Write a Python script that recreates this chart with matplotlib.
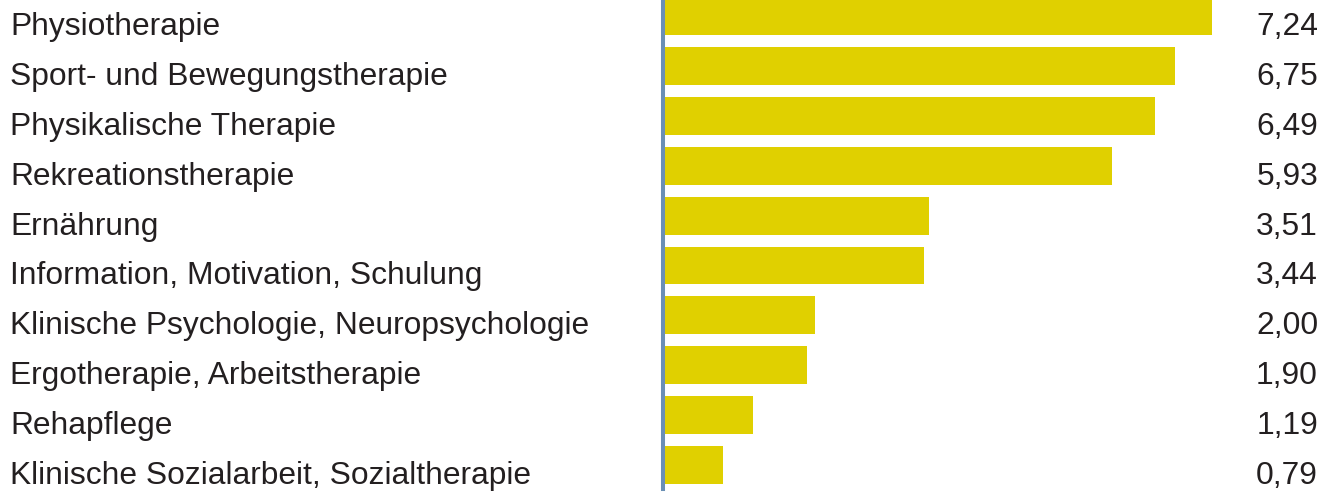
import matplotlib
matplotlib.use("Agg")
import matplotlib.pyplot as plt
from matplotlib.transforms import blended_transform_factory

kategorien = [
    "Physiotherapie",
    "Sport- und Bewegungstherapie",
    "Physikalische Therapie",
    "Rekreationstherapie",
    "Ernährung",
    "Information, Motivation, Schulung",
    "Klinische Psychologie, Neuropsychologie",
    "Ergotherapie, Arbeitstherapie",
    "Rehapflege",
    "Klinische Sozialarbeit, Sozialtherapie",
]
werte = [7.24, 6.75, 6.49, 5.93, 3.51, 3.44, 2.00, 1.90, 1.19, 0.79]

W, H = 1331, 493
fig = plt.figure(figsize=(W / 100, H / 100), dpi=100)
plt.rcParams['font.family'] = ['Liberation Sans', 'DejaVu Sans']

# Achse: links bei 663 px, unten bei 489 px
ax = fig.add_axes([663 / W, (H - 489) / H, (W - 663) / W, 489 / H])
pos = list(range(len(werte)))
ax.barh(pos, werte, height=0.76, color='#e0d000', zorder=1)

ax.set_xlim(0, 668 / 75.8)
ax.set_ylim((489 - 16) / 49.9, -16 / 49.9)

for s in ['top', 'right', 'bottom']:
    ax.spines[s].set_visible(False)
ax.spines['left'].set_color('#6a8fb5')
ax.spines['left'].set_linewidth(2.9)
ax.spines['left'].set_zorder(3)
ax.set_xticks([])
ax.set_yticks([])

trans = blended_transform_factory(fig.transFigure, ax.transData)
for i, (k, v) in enumerate(zip(kategorien, werte)):
    ax.text(10 / W, i + 0.38, k, transform=trans, ha='left', va='baseline',
            fontsize=22.9, color='#231f20', clip_on=False)
    ax.text(1318 / W, i + 0.38, f"{v:.2f}".replace('.', ','), transform=trans,
            ha='right', va='baseline', fontsize=22.9, color='#231f20',
            clip_on=False)

fig.savefig("out.png", dpi=100)
